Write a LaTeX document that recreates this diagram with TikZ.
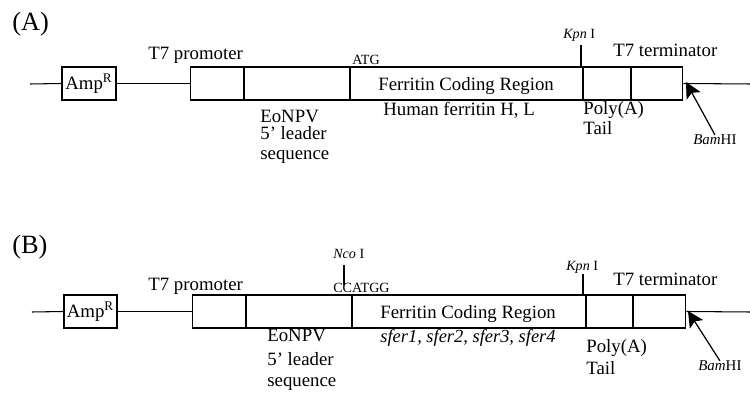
\documentclass[tikz,border=0pt]{standalone}
\usepackage{fontspec}
\setmainfont{Liberation Serif}
\usetikzlibrary{arrows.meta}
\tikzset{
  txt/.style={font=\fontsize{10.7}{12}\selectfont, inner sep=0pt},
  tag/.style={font=\fontsize{8}{9}\selectfont, inner sep=0pt},
  panel/.style={font=\fontsize{15}{17}\selectfont, inner sep=0pt},
  ampbox/.style={draw, line width=0.6pt, minimum height=0.66cm, inner sep=0pt, txt},
  cassette/.style={draw, line width=0.6pt, minimum height=0.66cm, inner sep=0pt},
  wire/.style={line width=0.6pt},
  bar/.style={line width=1.4pt},
  cut/.style={-{Stealth[length=9pt,width=9pt,inset=2pt]}, line width=0.7pt},
}
\begin{document}
\begin{tikzpicture}[x=0.02cm, y=-0.02cm]
  \useasboundingbox (0,0) rectangle (750,394);
  % (A) 人 ferritin 载体
  \node[panel, anchor=base west] (titA) at (12,31) {(A)};
  \coordinate (startA) at (30,84);
  \coordinate (endA) at (750,84);
  \node[ampbox, minimum width=1.08cm] (ampA) at (89,83.5) {Amp\textsuperscript{R}};
  \node[cassette, minimum width=9.86cm] (casA) at (436.5,83.5) {};
  \draw[wire] (startA) -- (ampA.west);
  \draw[wire] (ampA.east) -- (casA.west);
  \draw[wire] (casA.east) -- (endA);
  \draw[bar] (244,67) -- (244,100);
  \draw[bar] (350,67) -- (350,100);
  \draw[wire] (583,67) -- (583,100);
  \draw[bar] (631,67) -- (631,100);
  % 上方标签
  \node[txt, anchor=base west] (proA) at (148,60) {T7 promoter};
  \node[tag, anchor=base west] (atgA) at (352,65) {ATG};
  \node[tag, anchor=base west] (kpnA) at (563,39) {\textit{Kpn} I};
  \coordinate (kA) at (581,67);
  \draw[wire] (kA) -- ++(0,-22);
  \node[txt, anchor=base west] (terA) at (613,57) {T7 terminator};
  \node[txt, anchor=base west] (ferA) at (378,91) {Ferritin Coding Region};
  % 下方标签
  \node[txt, anchor=base west] (humA) at (383,116) {Human ferritin H, L};
  \node[txt, anchor=base west] (eoA) at (260,123) {EoNPV};
  \node[txt, anchor=base west] (ldA) at (260,140) {5' leader};
  \node[txt, anchor=base west] (sqA) at (260,160) {sequence};
  \node[txt, anchor=base west] (plA) at (583,115) {Poly(A)};
  \node[txt, anchor=base west] (tlA) at (583,135) {Tail};
  \node[tag, font=\fontsize{8.5}{9}\selectfont, anchor=base west] (bamA) at (693,145) {\textit{Bam}HI};
  \coordinate (tipA) at (686,82);
  \draw[cut] (bamA.north) -- (tipA);

  % (B) 家蚕 ferritin 载体
  \node[panel, anchor=base west] (titB) at (12,254) {(B)};
  \coordinate (startB) at (32,312);
  \coordinate (endB) at (750,312);
  \node[ampbox, minimum width=1.06cm] (ampB) at (90.5,311.5) {Amp\textsuperscript{R}};
  \node[cassette, minimum width=9.88cm] (casB) at (439,311.5) {};
  \draw[wire] (startB) -- (ampB.west);
  \draw[wire] (ampB.east) -- (casB.west);
  \draw[wire] (casB.east) -- (endB);
  \draw[bar] (246,295) -- (246,328);
  \draw[bar] (352,295) -- (352,328);
  \draw[wire] (586,295) -- (586,328);
  \draw[bar] (633,295) -- (633,328);
  % 上方标签
  \node[txt, anchor=base west] (proB) at (148,291) {T7 promoter};
  \node[tag, anchor=base west] (ncoB) at (333,259) {\textit{Nco} I};
  \coordinate (nB) at (344,285);
  \draw[wire] (nB) -- ++(0,-20);
  \node[tag, anchor=base west] (ccB) at (333,293) {CCATGG};
  \node[tag, anchor=base west] (kpnB) at (566,271) {\textit{Kpn} I};
  \coordinate (kB) at (583,295);
  \draw[wire] (kB) -- ++(0,-21);
  \node[txt, anchor=base west] (terB) at (613,286) {T7 terminator};
  \node[txt, anchor=base west] (ferB) at (380,319) {Ferritin Coding Region};
  % 下方标签
  \node[tag, font=\fontsize{10.5}{11}\selectfont\itshape, anchor=base west] (sfB) at (380,343) {sfer1, sfer2, sfer3, sfer4};
  \node[txt, anchor=base west] (eoB) at (267,342) {EoNPV};
  \node[txt, anchor=base west] (ldB) at (267,366) {5' leader};
  \node[txt, anchor=base west] (sqB) at (267,387) {sequence};
  \node[txt, anchor=base west] (plB) at (586,353) {Poly(A)};
  \node[txt, anchor=base west] (tlB) at (586,375) {Tail};
  \node[tag, font=\fontsize{8.5}{9}\selectfont, anchor=base west] (bamB) at (698,371) {\textit{Bam}HI};
  \coordinate (tipB) at (688,311);
  \draw[cut] (bamB.north) -- (tipB);
\end{tikzpicture}
\end{document}
